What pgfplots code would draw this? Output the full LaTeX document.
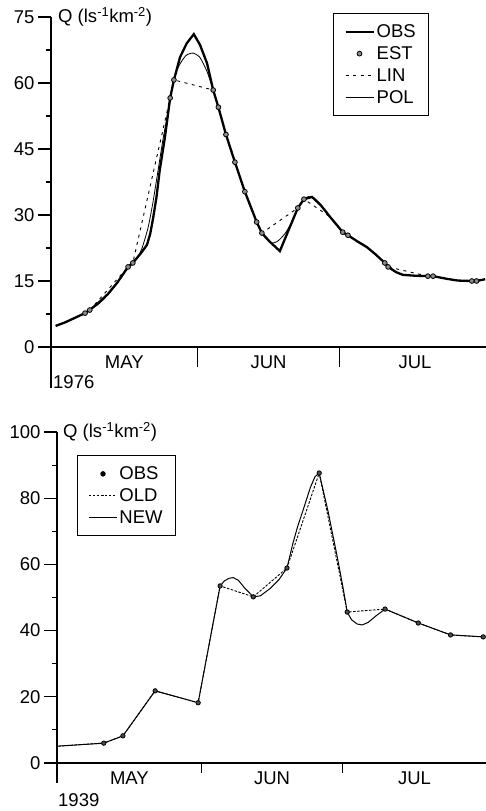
\documentclass[border=0pt]{standalone}
\usepackage{fontspec}
\setmainfont{Liberation Sans}
\usepackage{pgfplots}
\pgfplotsset{compat=1.18}
\begin{document}
\begin{tikzpicture}[font=\fontsize{18.5}{22}\selectfont]
\useasboundingbox (0,0) rectangle (486pt,811pt);
\pgfplotsset{
 hyd/.style={scale only axis, axis lines*=left, clip=false, xmin=0, xmax=92, xtick=\empty,
  axis line style={line width=1.2pt}, tick style={line width=1.1pt, black},
  major tick length=13pt, minor tick length=5pt, tick align=outside,
  /pgf/number format/assume math mode=true, legend cell align=left,
  legend image code/.code={\draw[mark repeat=2,mark phase=2,##1] plot coordinates {(0pt,0pt) (14pt,0pt) (28pt,0pt)};},
  legend style={draw=black, line width=1pt, inner xsep=11pt, inner ysep=9pt, row sep=3.5pt,
   /tikz/every even column/.append style={column sep=6pt}}}
}
% ---------------- top panel (1976)
\begin{axis}[hyd, at={(51pt,464pt)}, anchor=south west, width=435pt, height=330pt,
  ymin=0, ymax=75, ytick={0,15,...,75}, minor y tick num=1,
  legend style={at={(0.648,1.012)}, anchor=north west}]
\addplot[black, line width=2.3pt] coordinates {
(1,4.8) (3,5.6) (5,6.6) (7.2,7.7) (8.2,8.4) (10,10.0) (12,12.0) (14,14.6) (16.3,18.2) (17.3,19.1)
(19,21.3) (20.3,23.2) (21,25.8) (21.6,29.3) (22.3,34.0) (23,40.2) (24.1,47.7) (25.2,56.6) (26,60.7)
(27.3,65.9) (28.7,69.0) (30.2,71.1) (31.5,68.7) (33,64.5) (34.3,58.4) (35.4,54.5) (37,48.3) (38.9,42.0)
(41,35.3) (43.5,28.4) (44.6,25.9) (46.3,23.9) (48.4,21.8) (50.3,26.7) (52.2,31.6) (53.5,33.6) (55.2,34.1)
(57,32.3) (59,29.6) (61.7,26.1) (62.8,25.4) (64.8,24.0) (66.8,22.7) (68.7,21.0) (70.6,19.1) (71.3,18.2)
(73,17.0) (74.4,16.4) (77,16.2) (79.7,16.1) (80.8,16.1) (83.7,15.5) (86,15.1) (89,15.0) (90,15.0) (91.8,15.4)};
\addlegendentry{OBS}
\addlegendimage{only marks, mark=*, mark size=2.4pt, mark options={fill=black!45, draw=black, line width=0.8pt}}
\addlegendentry{EST}
\addplot[black, line width=0.9pt, dash pattern=on 3pt off 4.5pt] coordinates {
(1,4.8) (3,5.6) (5,6.6) (7.2,7.7) (8.2,8.4) (16.3,18.2) (17.3,19.1) (25.2,56.6) (26,60.7) (34.3,58.4)
(35.4,54.5) (37,48.3) (38.9,42.0) (41,35.3) (43.5,28.4) (44.6,25.9) (52.2,31.6) (53.5,33.6) (59,29.6)
(61.7,26.1) (62.8,25.4) (64.8,24.0) (66.8,22.7) (68.7,21.0) (70.6,19.1) (71.3,18.2) (79.7,16.1) (80.8,16.1)
(83.7,15.5) (86,15.1) (89,15.0) (90,15.0) (91.8,15.4)};
\addlegendentry{LIN}
\addplot[black, line width=0.8pt, smooth, tension=0.4] coordinates {
(1,4.8) (3,5.6) (5,6.6) (7.2,7.7) (8.2,8.4) (10,9.7) (12,11.8) (14,14.6) (16.3,18.2) (17.3,19.1)
(18.3,20.4) (19.2,22.3) (20.5,27.0) (21.5,32.5) (22.4,38.5) (23.7,47.3) (24.5,52.0) (25.2,56.6) (26,60.7)
(27,63.8) (28.5,66.2) (30,66.8) (31.5,65.8) (33,62.6) (34.3,58.4) (35.4,54.5) (37,48.3) (38.9,42.0)
(41,35.3) (43.5,28.4) (44.6,25.9) (45.5,24.6) (46.7,23.6) (48,24.1) (49.5,25.8) (51,28.5) (52.2,31.6)
(53.5,33.6) (54.5,34.2) (55.7,33.8) (56.9,32.5) (58,31.1) (59,29.6) (61.7,26.1) (62.8,25.4) (64.8,24.0)
(66.8,22.7) (68.7,21.0) (70.6,19.1) (71.3,18.2) (73,17.0) (74.4,16.4) (77,16.2) (79.7,16.1) (80.8,16.1)
(83.7,15.5) (86,15.1) (89,15.0) (90,15.0) (91.8,15.4)};
\addlegendentry{POL}
\addplot[forget plot, only marks, mark=*, mark size=2.4pt, mark options={fill=black!45, draw=black, line width=0.8pt}] coordinates {
(7.2,7.7) (8.2,8.4) (16.3,18.2) (17.3,19.1) (25.2,56.6) (26,60.7) (34.3,58.4) (35.4,54.5) (37,48.3)
(38.9,42.0) (41,35.3) (43.5,28.4) (44.6,25.9) (52.2,31.6) (53.5,33.6) (61.7,26.1) (62.8,25.4)
(70.6,19.1) (71.3,18.2) (79.7,16.1) (80.8,16.1) (89,15.0) (90,15.0)};
\node[anchor=west, inner sep=0pt] at (axis cs:0,75) [xshift=7pt] {Q (ls\textsuperscript{-1}km\textsuperscript{-2})};
\draw[line width=1.2pt] (axis cs:0,0) -- ++(0,-41pt);
\draw[line width=1pt] (axis cs:31,0) -- ++(0,-20pt);
\draw[line width=1pt] (axis cs:61,0) -- ++(0,-20pt);
\node at (axis cs:15.5,0) [yshift=-15pt] {MAY};
\node at (axis cs:46,0) [yshift=-15pt] {JUN};
\node at (axis cs:77,0) [yshift=-15pt] {JUL};
\node[anchor=west, inner sep=0pt] at (axis cs:0,0) [yshift=-35pt, xshift=2pt] {1976};
\end{axis}
% ---------------- bottom panel (1939)
\begin{axis}[hyd, at={(57pt,48pt)}, anchor=south west, width=430pt, height=331pt,
  ymin=0, ymax=100, ytick={0,20,...,100}, minor y tick num=1,
  legend style={at={(0.0465,0.930)}, anchor=north west}]
\addlegendimage{only marks, mark=*, mark size=2.2pt, mark options={fill=black, draw=black}}
\addlegendentry{OBS}
\addplot[black, line width=0.9pt, dash pattern=on 2.5pt off 1.5pt] coordinates {
(0.3,5.1) (10,6.0) (14.1,8.2) (21,21.8) (30.2,18.2) (34.9,53.5) (42,50.2) (49.2,58.9) (56.1,87.6)
(62.1,45.6) (70.2,46.5) (77.3,42.3) (84.2,38.7) (91.2,38.1)};
\addlegendentry{OLD}
\addplot[black, line width=1pt] coordinates {
(0.3,5.1) (10,6.0) (14.1,8.2) (21,21.8) (30.2,18.2) (34.9,53.5) (35.8,55.0) (36.8,55.8) (37.7,56.0)
(38.8,55.2) (40.2,52.8) (42,50.2) (43.5,50.5) (45.5,52.6) (47.5,55.4) (49.2,58.9) (50.5,66.5) (51.5,71.5)
(52.7,76.6) (54.2,83.2) (55.2,86.5) (56.1,87.6) (58,76) (60,62) (61.2,53) (62.1,45.6) (63,43.3)
(64.2,42.0) (65.3,41.7) (66.6,42.5) (68.3,44.5) (70.2,46.5) (77.3,42.3) (84.2,38.7) (91.2,38.1)};
\addlegendentry{NEW}
\addplot[forget plot, only marks, mark=*, mark size=2.2pt, mark options={fill=black!70, draw=black, line width=0.8pt}] coordinates {
(10,6.0) (14.1,8.2) (21,21.8) (30.2,18.2) (34.9,53.5) (42,50.2) (49.2,58.9) (56.1,87.6)
(62.1,45.6) (70.2,46.5) (77.3,42.3) (84.2,38.7) (91.2,38.1)};
\node[anchor=west, inner sep=0pt] at (axis cs:0,100) [xshift=6pt] {Q (ls\textsuperscript{-1}km\textsuperscript{-2})};
\draw[line width=1.2pt] (axis cs:0,0) -- ++(0,-20pt);
\draw[line width=1pt] (axis cs:31,0) -- ++(0,-10pt);
\draw[line width=1pt] (axis cs:61,0) -- ++(0,-10pt);
\node at (axis cs:15.5,0) [yshift=-15pt] {MAY};
\node at (axis cs:46,0) [yshift=-15pt] {JUN};
\node at (axis cs:76.5,0) [yshift=-15pt] {JUL};
\node[anchor=west, inner sep=0pt] at (axis cs:0,0) [yshift=-37pt, xshift=1pt] {1939};
\end{axis}
\end{tikzpicture}
\end{document}
